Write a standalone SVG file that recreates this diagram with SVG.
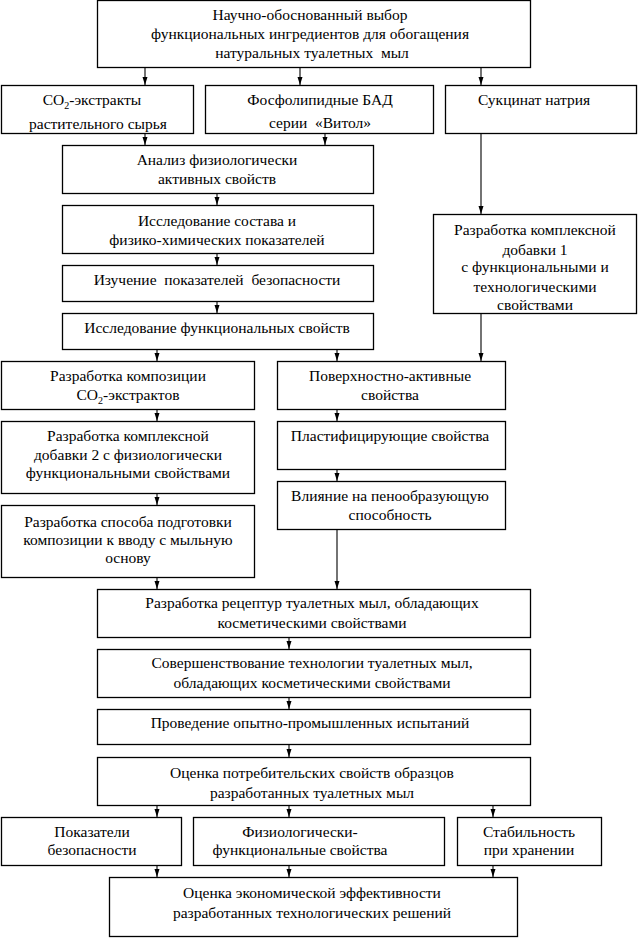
<svg xmlns="http://www.w3.org/2000/svg" width="638" height="938" viewBox="0 0 638 938">
<defs>
<style>
rect{fill:#fff;stroke:#000;stroke-width:1.3}
text{font-family:"Liberation Serif","Times New Roman",serif;font-size:15.5px;fill:#000;text-anchor:middle;white-space:pre}
.c line{stroke:#000;stroke-width:1.1}
.sub{font-size:10px}
</style>
<marker id="ah" markerUnits="userSpaceOnUse" markerWidth="8" markerHeight="6" viewBox="0 0 8 6" refX="8" refY="3" orient="auto">
<path d="M0,0.5 L8,3 L0,5.5 Z" fill="#000"/>
</marker>
</defs>
<rect width="638" height="938" style="fill:#fff;stroke:none"/>
<g class="c" id="connectors">
<line x1="145" y1="67" x2="145" y2="85" marker-end="url(#ah)"/>
<line x1="300" y1="67" x2="300" y2="85" marker-end="url(#ah)"/>
<line x1="481" y1="67" x2="481" y2="85" marker-end="url(#ah)"/>
<line x1="145" y1="133" x2="145" y2="145" marker-end="url(#ah)"/>
<line x1="325" y1="133" x2="325" y2="145" marker-end="url(#ah)"/>
<line x1="481" y1="133" x2="481" y2="214" marker-end="url(#ah)"/>
<line x1="217" y1="193" x2="217" y2="205" marker-end="url(#ah)"/>
<line x1="217" y1="253" x2="217" y2="265" marker-end="url(#ah)"/>
<line x1="217" y1="301" x2="217" y2="313" marker-end="url(#ah)"/>
<line x1="157" y1="349" x2="157" y2="361" marker-end="url(#ah)"/>
<line x1="337" y1="349" x2="337" y2="361" marker-end="url(#ah)"/>
<line x1="481" y1="313" x2="481" y2="361" marker-end="url(#ah)"/>
<line x1="157" y1="409" x2="157" y2="421" marker-end="url(#ah)"/>
<line x1="157" y1="493" x2="157" y2="505" marker-end="url(#ah)"/>
<line x1="337" y1="409" x2="337" y2="421" marker-end="url(#ah)"/>
<line x1="337" y1="469" x2="337" y2="481" marker-end="url(#ah)"/>
<line x1="157" y1="577" x2="157" y2="589" marker-end="url(#ah)"/>
<line x1="337" y1="529" x2="337" y2="589" marker-end="url(#ah)"/>
<line x1="289" y1="637" x2="289" y2="649" marker-end="url(#ah)"/>
<line x1="289" y1="697" x2="289" y2="709" marker-end="url(#ah)"/>
<line x1="289" y1="745" x2="289" y2="757" marker-end="url(#ah)"/>
<line x1="157" y1="805" x2="157" y2="817" marker-end="url(#ah)"/>
<line x1="289" y1="805" x2="289" y2="817" marker-end="url(#ah)"/>
<line x1="493" y1="805" x2="493" y2="817" marker-end="url(#ah)"/>
<line x1="157" y1="865" x2="157" y2="877" marker-end="url(#ah)"/>
<line x1="289" y1="865" x2="289" y2="877" marker-end="url(#ah)"/>
<line x1="493" y1="865" x2="493" y2="877" marker-end="url(#ah)"/>
</g>
<g id="n1"><rect x="97.5" y="0.5" width="433" height="67"/>
<text x="310" y="20">Научно-обоснованный выбор</text>
<text x="310" y="39">функциональных ингредиентов для обогащения</text>
<text x="312" y="58">натуральных туалетных  мыл</text></g>
<g id="n2"><rect x="1.5" y="85.5" width="192" height="48"/>
<text x="92" y="105">CO<tspan class="sub" dy="4">2</tspan><tspan dy="-4">-экстракты</tspan></text>
<text x="98" y="129">растительного сырья</text></g>
<g id="n3"><rect x="205.5" y="85.5" width="228" height="48"/>
<text x="320" y="105">Фосфолипидные БАД</text>
<text x="320" y="128">серии  «Витол»</text></g>
<g id="n4"><rect x="445.5" y="85.5" width="191" height="48"/>
<text x="534" y="105">Сукцинат натрия</text></g>
<g id="n5"><rect x="62.5" y="145.5" width="311" height="48"/>
<text x="217" y="165">Анализ физиологически</text>
<text x="217" y="184">активных свойств</text></g>
<g id="n6"><rect x="62.5" y="205.5" width="311" height="48"/>
<text x="217" y="226">Исследование состава и</text>
<text x="217" y="245">физико-химических показателей</text></g>
<g id="n7"><rect x="62.5" y="265.5" width="311" height="36"/>
<text x="217" y="285">Изучение  показателей  безопасности</text></g>
<g id="n8"><rect x="62.5" y="313.5" width="311" height="36"/>
<text x="217" y="333">Исследование функциональных свойств</text></g>
<g id="n9"><rect x="433.5" y="214.5" width="203" height="99"/>
<text x="535" y="235">Разработка комплексной</text>
<text x="535" y="255">добавки 1</text>
<text x="535" y="272">с функциональными и</text>
<text x="535" y="292">технологическими</text>
<text x="535" y="310">свойствами</text></g>
<g id="n10"><rect x="1.5" y="361.5" width="253" height="48"/>
<text x="128" y="381">Разработка композиции</text>
<text x="128" y="400">CO<tspan class="sub" dy="4">2</tspan><tspan dy="-4">-экстрактов</tspan></text></g>
<g id="n11"><rect x="1.5" y="421.5" width="253" height="72"/>
<text x="128" y="441">Разработка комплексной</text>
<text x="128" y="460">добавки 2 с физиологически</text>
<text x="128" y="478">функциональными свойствами</text></g>
<g id="n12"><rect x="1.5" y="505.5" width="253" height="72"/>
<text x="128" y="527">Разработка способа подготовки</text>
<text x="128" y="545">композиции к вводу с мыльную</text>
<text x="128" y="563">основу</text></g>
<g id="n13"><rect x="277.5" y="361.5" width="228" height="48"/>
<text x="390" y="381">Поверхностно-активные</text>
<text x="390" y="400">свойства</text></g>
<g id="n14"><rect x="277.5" y="421.5" width="228" height="48"/>
<text x="390" y="441">Пластифицирующие свойства</text></g>
<g id="n15"><rect x="277.5" y="481.5" width="228" height="48"/>
<text x="390" y="501">Влияние на пенообразующую</text>
<text x="390" y="520">способность</text></g>
<g id="n16"><rect x="97.5" y="589.5" width="433" height="48"/>
<text x="312" y="608">Разработка рецептур туалетных мыл, обладающих</text>
<text x="312" y="628">косметическими свойствами</text></g>
<g id="n17"><rect x="97.5" y="649.5" width="433" height="48"/>
<text x="312" y="668">Совершенствование технологии туалетных мыл,</text>
<text x="312" y="688">обладающих косметическими свойствами</text></g>
<g id="n18"><rect x="97.5" y="709.5" width="433" height="35"/>
<text x="310" y="728">Проведение опытно-промышленных испытаний</text></g>
<g id="n19"><rect x="97.5" y="757.5" width="433" height="48"/>
<text x="312" y="778">Оценка потребительских свойств образцов</text>
<text x="312" y="798">разработанных туалетных мыл</text></g>
<g id="n20"><rect x="1.5" y="817.5" width="180" height="48"/>
<text x="92" y="837">Показатели</text>
<text x="92" y="855">безопасности</text></g>
<g id="n21"><rect x="193.5" y="817.5" width="251" height="48"/>
<text x="300" y="837">Физиологически-</text>
<text x="300" y="855">функциональные свойства</text></g>
<g id="n22"><rect x="457.5" y="817.5" width="144" height="48"/>
<text x="529" y="837">Стабильность</text>
<text x="529" y="855">при хранении</text></g>
<g id="n23"><rect x="109.5" y="877.5" width="408" height="59"/>
<text x="312" y="898">Оценка экономической эффективности</text>
<text x="312" y="918">разработанных технологических решений</text></g>
</svg>
